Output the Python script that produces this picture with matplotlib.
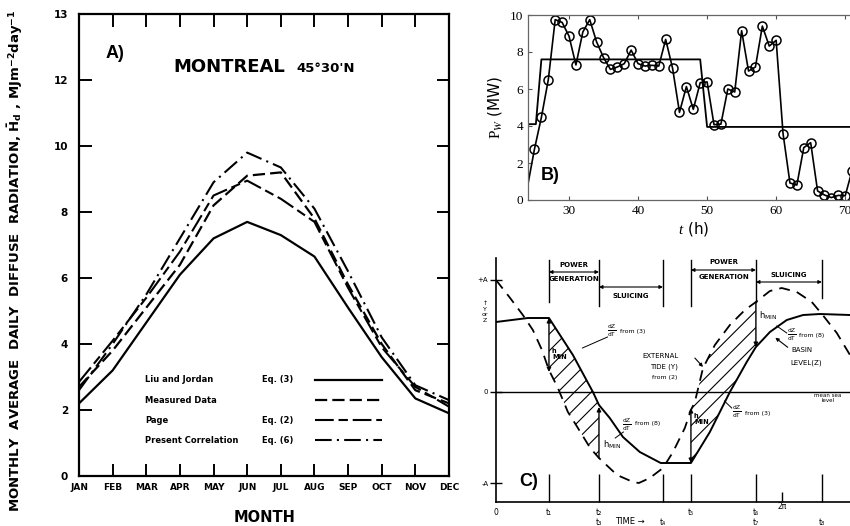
import numpy as np
import matplotlib
matplotlib.use('Agg')
import matplotlib.pyplot as plt
from matplotlib.patches import Polygon

plt.rcParams['font.family'] = ['DejaVu Sans']
plt.rcParams['mathtext.fontset'] = 'custom'
plt.rcParams['mathtext.rm'] = 'Liberation Serif'
plt.rcParams['mathtext.it'] = 'Liberation Serif:italic'
plt.rcParams['mathtext.bf'] = 'DejaVu Sans:bold'
plt.rcParams['mathtext.sf'] = 'DejaVu Sans'
plt.rcParams['hatch.linewidth'] = 0.8

# A) Montreal, monthly average daily diffuse radiation (MJ/m2/day)
months = ['JAN', 'FEB', 'MAR', 'APR', 'MAY', 'JUN',
          'JUL', 'AUG', 'SEP', 'OCT', 'NOV', 'DEC']
liu_jordan = [2.2, 3.2, 4.65, 6.1, 7.2, 7.7, 7.3, 6.65, 5.1, 3.6, 2.35, 1.9]
measured = [2.7, 3.8, 5.1, 6.4, 8.2, 9.1, 9.2, 7.8, 5.8, 4.0, 2.6, 2.2]
page = [2.85, 4.1, 5.4, 6.8, 8.5, 8.95, 8.4, 7.7, 5.7, 3.9, 2.7, 2.1]
present = [2.6, 4.0, 5.5, 7.2, 8.9, 9.8, 9.35, 8.1, 6.2, 4.2, 2.75, 2.3]
legend_names = ['Liu and Jordan', 'Measured Data', 'Page', 'Present Correlation']
legend_eqs = ['Eq. (3)', '', 'Eq. (2)', 'Eq. (6)']

# B) hourly wind power and the scheduled block
hours = list(range(24, 72))
power_mw = [0.75, 2.76, 4.47, 6.5, 9.75, 9.6, 8.86, 7.3, 9.08, 9.75,
            8.54, 7.7, 7.06, 7.19, 7.37, 8.1, 7.37, 7.24, 7.28, 7.24,
            8.68, 7.12, 4.74, 6.13, 4.9, 6.34, 6.38, 4.07, 4.1, 6.0,
            5.84, 9.15, 6.97, 7.19, 9.4, 8.32, 8.63, 3.59, 0.92, 0.81,
            2.83, 3.1, 0.49, 0.27, 0.13, 0.25, 0.23, 1.59]
sched_t = [24, 25.2, 26, 49, 50, 73]
sched_p = [4.1, 4.1, 7.6, 7.6, 3.95, 3.95]

# C) tidal cycle: external tide Y and basin level Z (phase in rad, level in A)
tide_x = [0.0, 0.31, 0.59, 0.81, 1.01, 1.164, 1.36, 1.58, 1.80, 2.07, 2.263,
          2.66, 3.01, 3.14, 3.38, 3.67, 3.89, 4.15, 4.284, 4.37, 4.55, 4.81,
          5.14, 5.47, 5.712, 6.02, 6.28, 6.61, 6.94, 7.18, 7.49, 7.78]
tide_y = [1.12, 0.94, 0.77, 0.62, 0.42, 0.22, 0.04, -0.20, -0.36, -0.56, -0.66,
          -0.83, -0.90, -0.91, -0.86, -0.76, -0.60, -0.36, -0.18, -0.10, 0.24, 0.47,
          0.67, 0.82, 0.90, 1.01, 1.04, 1.00, 0.90, 0.77, 0.59, 0.37]
basin_x = [0.0, 0.70, 1.164, 1.69, 2.13, 2.263, 2.50, 2.79, 3.16, 3.62, 4.284,
           4.70, 5.14, 5.51, 5.712, 6.02, 6.39, 6.75, 7.12, 7.78]
basin_y = [0.70, 0.74, 0.74, 0.37, 0.0, -0.13, -0.26, -0.45, -0.60, -0.71, -0.71,
           -0.40, 0.0, 0.30, 0.45, 0.60, 0.72, 0.77, 0.78, 0.77]
event_t = [1.164, 2.263, 3.669, 4.284, 5.712, 7.162]
event_labels = ['t\u2081', 't\u2082\nt\u2083', '\nt\u2084', 't\u2085', 't\u2086\nt\u2087', '\nt\u2088']
amp_top, amp_bot = 1.12, -0.91

fig = plt.figure(figsize=(8.5, 5.26), dpi=100)

# ---------------- A ----------------
axa = fig.add_axes([79/850, 50/526, 370/850, 462/526])
x = np.arange(len(months))
axa.plot(x, liu_jordan, color='k', lw=1.6)
axa.plot(x, measured, color='k', lw=1.6, dashes=(5.5, 2.3))
axa.plot(x, page, color='k', lw=1.5, dashes=(9, 2.3, 4.5, 2.3))
axa.plot(x, present, color='k', lw=1.5, dashes=(8, 2.5, 1, 2.5))
axa.set_xlim(0, 11)
axa.set_ylim(0, 14)
yvals = list(range(0, 15, 2))
axa.set_xticks(x, months)
axa.set_yticks(yvals, ['0', '2', '4', '6', '8', '10', '12', '13'])
axa.tick_params(direction='in', length=9, width=1.4, top=True, right=True,
                labelsize=6.5)
axa.tick_params(axis='x', pad=5)
axa.tick_params(axis='y', pad=8, labelsize=7.5)
for lab in axa.get_xticklabels() + axa.get_yticklabels():
    lab.set_fontweight('bold')
for tk, v in zip(axa.yaxis.get_major_ticks(), yvals):
    if v in (0, 2, 14):
        tk.tick2line.set_visible(False)
for sp in axa.spines.values():
    sp.set_linewidth(1.6)

styles = [dict(lw=1.6), dict(lw=1.6, dashes=(5.5, 2.3)),
          dict(lw=1.5, dashes=(9, 2.3, 4.5, 2.3)), dict(lw=1.5, dashes=(8, 2.5, 1, 2.5))]
for i, (name, eq, st) in enumerate(zip(legend_names, legend_eqs, styles)):
    yy = 0.208 - i * 0.0435
    axa.text(0.178, yy, name, transform=axa.transAxes, fontsize=6,
             fontweight='bold', va='center')
    axa.text(0.495, yy, eq, transform=axa.transAxes, fontsize=6,
             fontweight='bold', va='center')
    axa.plot([0.638, 0.819], [yy, yy], color='k', transform=axa.transAxes, **st)

axa.text(0.254, 0.885, 'MONTREAL', transform=axa.transAxes, fontsize=13,
         fontweight='bold', va='center')
axa.text(0.589, 0.883, "45°30'N", transform=axa.transAxes, fontsize=9.5,
         fontweight='bold', va='center')
fig.text(106/850, 1 - 53/526, 'A)', fontsize=13, fontweight='bold',
         family='Liberation Sans', va='center')
fig.text(15/850, 0.505,
         r'MONTHLY  AVERAGE  DAILY  DIFFUSE  RADIATION, $\mathbf{\bar{H}_d}$ , '
         r'MJm$^{\mathbf{-2}}$day$^{\mathbf{-1}}$',
         rotation=90, fontsize=9.5, fontweight='bold', ha='center', va='center')
fig.text(265/850, 1 - 517/526, 'MONTH', fontsize=10.5, fontweight='bold',
         ha='center', va='center')

# ---------------- B ----------------
axb = fig.add_axes([528/850, 326/526, 331/850, 185/526])
axb.plot(sched_t, sched_p, color='k', lw=1.3)
axb.plot(hours, power_mw, color='k', lw=1.2, marker='o', ms=6.5, mfc='none',
         mew=1.1, markevery=slice(1, None))
axb.set_xlim(24.06, 72)
axb.set_ylim(0, 10)
axb.set_xticks([30, 40, 50, 60, 70])
axb.set_yticks(range(0, 11, 2))
axb.tick_params(direction='in', length=3, top=True, right=True, labelsize=9.5,
                labelfontfamily='Liberation Serif', color='#555')
for sp in axb.spines.values():
    sp.set_color('#666')
    sp.set_linewidth(0.9)
axb.set_ylabel(r'$\mathrm{P}_{\mathit{W}}$ (MW)', fontsize=11, labelpad=4)
axb.set_xlabel(r'$\mathit{t}$ (h)', fontsize=11, labelpad=2)
fig.text(541/850, 1 - 176/526, 'B)', fontsize=13, fontweight='bold',
         family='Liberation Sans', va='center')

# ---------------- C ----------------
axc = fig.add_axes([496/850, 24/526, 354/850, 244/526])
axc.set_xlim(0, 7.78)
axc.set_ylim(-1.10, 1.34)
for side in ('top', 'right'):
    axc.spines[side].set_visible(False)
for side in ('left', 'bottom'):
    axc.spines[side].set_linewidth(1.2)

tx, ty = np.array(tide_x), np.array(tide_y)
bx, by = np.array(basin_x), np.array(basin_y)
axc.plot(tx, ty, color='k', lw=1.3, dashes=(6, 4))
axc.plot(bx, by, color='k', lw=1.4)
axc.axhline(0, color='k', lw=1.0)

# hatched head between tide and basin during the two generating phases
for t0, t1 in [(event_t[0], event_t[1]), (event_t[3], event_t[4])]:
    mb = (bx >= t0) & (bx <= t1)
    mt = (tx >= t0) & (tx <= t1)
    verts = list(zip(bx[mb], by[mb])) + list(zip(tx[mt][::-1], ty[mt][::-1]))
    axc.add_patch(Polygon(verts, closed=True, facecolor='none', edgecolor='k',
                          lw=0, hatch='//'))

# phase boundaries at the top
top_y = 1.32
top_ends = [0.90, 0.86, 0.86, 0.86, 0.90, 0.94]
for t, ye in zip(event_t, top_ends):
    axc.plot([t, t], [top_y, ye], color='k', lw=1.0)

def span_arrow(a, b, y):
    axc.annotate('', xy=(b, y), xytext=(a, y),
                 arrowprops=dict(arrowstyle='<|-|>', color='k', lw=0.8,
                                 mutation_scale=5, shrinkA=0, shrinkB=0))

small = dict(fontsize=5, ha='center', va='center', fontweight='bold')
span_arrow(event_t[0], event_t[1], 1.20)
axc.text(1.71, 1.27, 'POWER', **small)
axc.text(1.71, 1.13, 'GENERATION', **small)
span_arrow(event_t[1], event_t[2], 1.05)
axc.text(2.97, 0.96, 'SLUICING', **small)
span_arrow(event_t[3], event_t[4], 1.22)
axc.text(5.0, 1.30, 'POWER', **small)
axc.text(5.0, 1.15, 'GENERATION', **small)
span_arrow(event_t[4], event_t[5], 1.10)
axc.text(6.44, 1.17, 'SLUICING', **small)

# minimum head arrows
def head_arrow(t, y0, y1, style):
    axc.annotate('', xy=(t, y1), xytext=(t, y0),
                 arrowprops=dict(arrowstyle=style, color='k', lw=1.0,
                                 mutation_scale=6, shrinkA=0, shrinkB=0))

head_arrow(event_t[0], 0.74, 0.20, '<|-|>')
head_arrow(event_t[1], -0.66, -0.15, '-|>')
head_arrow(event_t[3], -0.71, -0.16, '<|-|>')
head_arrow(event_t[4], 0.90, 0.45, '-|>')
tiny = dict(fontsize=4.8, fontweight='bold')
axc.text(1.23, 0.38, 'h\nMIN', va='center', linespacing=1.0, **tiny)
axc.text(2.36, -0.53, r'$\mathsf{h_{MIN}}$', va='center', fontsize=6)
axc.text(4.35, -0.27, 'h\nMIN', va='center', linespacing=1.0, **tiny)
axc.text(5.78, 0.76, r'$\mathsf{h_{MIN}}$', va='center', fontsize=6)

frac = r'$\mathsf{\frac{dZ}{dT}}$'
axc.text(2.55, 0.61, frac, fontsize=6, ha='center', va='center')
axc.text(2.72, 0.60, 'from (3)', va='center', fontsize=4.5)
axc.plot([2.45, 1.90], [0.55, 0.44], color='k', lw=0.7)
axc.text(2.88, -0.33, frac, fontsize=6, ha='center', va='center')
axc.text(3.05, -0.32, 'from (8)', va='center', fontsize=4.5)
axc.plot([2.80, 2.62], [-0.40, -0.46], color='k', lw=0.7)
axc.text(6.50, 0.57, frac, fontsize=6, ha='center', va='center')
axc.text(6.67, 0.57, 'from (8)', va='center', fontsize=4.5)
axc.plot([6.39, 6.17], [0.59, 0.66], color='k', lw=0.7)
axc.text(5.29, -0.20, frac, fontsize=6, ha='center', va='center')
axc.text(5.47, -0.21, 'from (3)', va='center', fontsize=4.5)
axc.plot([5.18, 5.02], [-0.16, -0.09], color='k', lw=0.7)

axc.text(3.62, 0.36, 'EXTERNAL', ha='center', va='center', fontsize=5)
axc.text(3.70, 0.25, 'TIDE (Y)', ha='center', va='center', fontsize=5)
axc.text(3.70, 0.15, 'from (2)', ha='center', va='center', fontsize=4.5)
axc.annotate('', xy=(4.59, 0.23), xytext=(4.33, 0.36),
             arrowprops=dict(arrowstyle='-|>', color='k', lw=0.8, mutation_scale=5))
axc.text(6.50, 0.42, 'BASIN', va='center', fontsize=5)
axc.annotate('', xy=(6.09, 0.56), xytext=(6.46, 0.43),
             arrowprops=dict(arrowstyle='-|>', color='k', lw=0.8, mutation_scale=5))
axc.text(6.46, 0.29, 'LEVEL(Z)', va='center', fontsize=5)
axc.text(7.29, -0.01, 'mean sea\nlevel', ha='center', va='top', fontsize=4,
         linespacing=0.9)

# axes labels and ticks
axc.set_yticks([amp_top, 0, amp_bot], ['+A', '0', '-A'])
axc.tick_params(axis='y', direction='inout', length=9, width=1.0, labelsize=5, pad=1)
axc.set_xticks([0] + event_t, ['0'] + event_labels)
axc.set_xticks([2 * np.pi], ['2\u03c0'], minor=True)
axc.tick_params(axis='x', which='major', direction='in', length=20, width=1.0,
                labelsize=5.5, pad=4)
axc.tick_params(axis='x', which='minor', direction='in', length=7, width=1.0,
                labelsize=5.5, pad=0)
axc.xaxis.get_major_ticks()[0].tick1line.set_visible(False)
axc.text(-0.24, 0.80, '\u2191\nY\nor\nZ', ha='center', va='center', fontsize=4.5,
         linespacing=1.1, clip_on=False)
axc.text(2.95, -1.30, 'TIME \u2192', ha='center', va='center', fontsize=6,
         clip_on=False)
axc.text(0.52, -0.90, 'C)', fontsize=13, fontweight='bold', family='Liberation Sans',
         va='center')

fig.savefig('out.png', dpi=100)
